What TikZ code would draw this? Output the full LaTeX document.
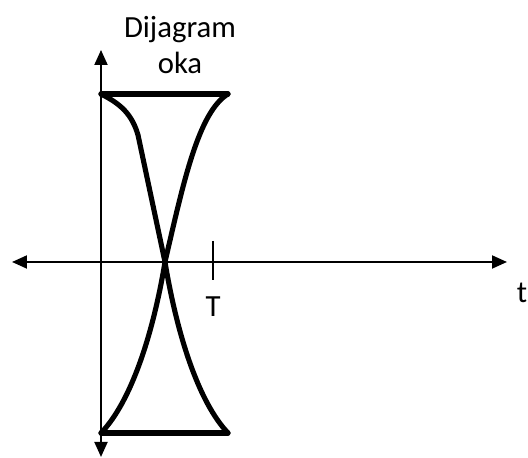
\documentclass[tikz,border=0pt]{standalone}
\usepackage{fontspec}
\setmainfont{Carlito}
\usetikzlibrary{arrows.meta}

\tikzset{
	axis/.style={line width=1.1pt},
	eye/.style={line width=2.9pt, line cap=round, line join=round},
	lbl/.style={font=\fontsize{17.5}{20}\selectfont, inner sep=0pt}
}

\begin{document}
\begin{tikzpicture}[>={Triangle[length=0.3cm, width=0.26cm]}]
	\useasboundingbox (-2.02,-3.92) rectangle (8.54,5.24);
	
	% Osi
	\coordinate (ylo) at (0,-3.9);
	\coordinate (yhi) at (0,4.24);
	\coordinate (xlo) at (-1.78,0);
	\coordinate (xhi) at (8.12,0);
	\draw[axis, <->] (ylo) -- (yhi);
	\draw[axis, <->] (xlo) -- (xhi);
	
	% Oznaka T
	\coordinate (tT) at (2.24,0.42);
	\coordinate (bT) at (2.24,-0.36);
	\draw[axis] (tT) -- (bT);
	\node[lbl] (T) at (2.24,-0.9) {T};
	\node[lbl] (t) at (8.42,-0.62) {t};
	\node[lbl, align=center] (naslov) at (1.58,4.34) {Dijagram\\oka};
	
	% Oko
	\coordinate (gl) at (0,3.36);
	\coordinate (gd) at (2.54,3.36);
	\coordinate (dl) at (0,-3.42);
	\coordinate (dd) at (2.54,-3.42);
	\coordinate (x) at (1.28,0);
	\draw[eye] (gl) -- (gd);
	\draw[eye] (dl) -- (dd);
	\draw[eye] (gl) .. controls (0.4,3.16) and (0.62,2.95) .. (0.74,2.54)
		-- (x) .. controls (1.52,-1.45) and (1.95,-2.8) .. (dd);
	\draw[eye] (gd) .. controls (1.95,3.0) and (1.65,1.6) .. (x)
		.. controls (1.04,-1.45) and (0.6,-2.8) .. (dl);
\end{tikzpicture}
\end{document}
